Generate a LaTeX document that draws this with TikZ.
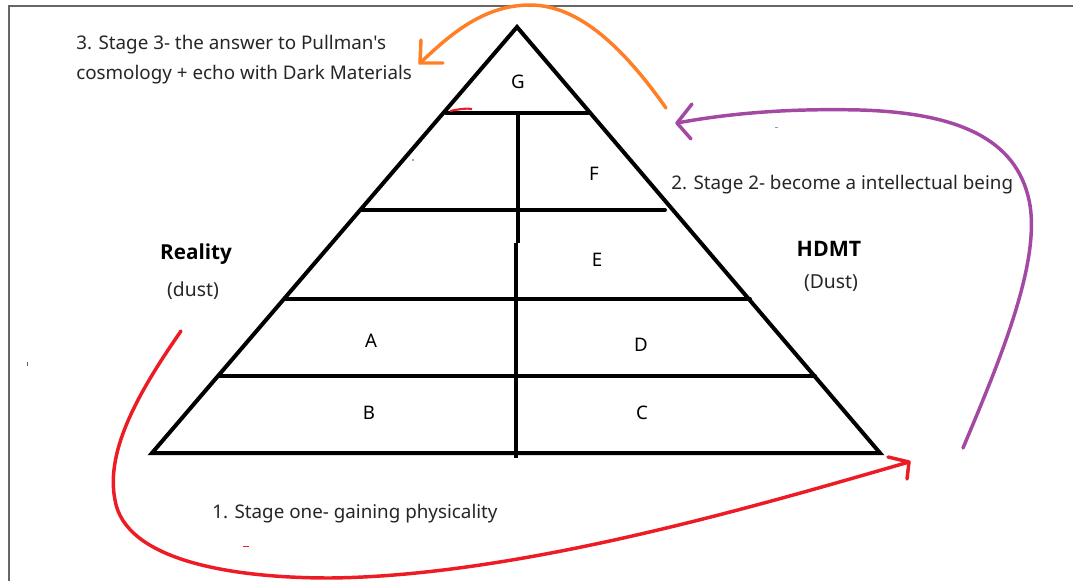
\documentclass[tikz,border=0pt]{standalone}
\usepackage{fontspec}
\setmainfont{Noto Sans}[Ligatures=TeXOff]
\newfontfamily\headfont{Open Sans}[Ligatures=TeXOff]
\begin{document}
\begin{tikzpicture}[x=0.75pt,y=-0.75pt,
  frame/.style={draw=black!60,line width=1.5pt},
  bar/.style={draw=black,line width=3pt,line cap=round},
  stroke/.style={line width=2.6pt,line cap=round,line join=round},
  lbl/.style={font=\fontsize{14.1}{16}\selectfont,inner sep=0pt,text=black!85},
  head/.style={font=\headfont\bfseries\fontsize{15.5}{18}\selectfont,inner sep=0pt},
  sub/.style={font=\fontsize{14.5}{17}\selectfont,inner sep=0pt,text=black!85},
  cell/.style={font=\fontsize{14}{16}\selectfont,inner sep=0pt}]
\definecolor{pred}{HTML}{ED1C24}
\definecolor{porange}{HTML}{FF7F27}
\definecolor{ppurple}{HTML}{A349A4}
\useasboundingbox (0,0) rectangle (1073,581);
\fill[white] (0,0) rectangle (1073,581);
% window frame
\draw[frame] (1073,6.5) -- (8.5,6.5) -- (8.5,581);

% pyramid
\coordinate (apex) at (517,27);
\coordinate (bl) at (152,453);
\coordinate (br) at (880,453);
\draw[bar,line join=miter] (bl) -- (apex) -- (br) -- cycle;
\draw[bar] (446,113) -- (588,113);
\draw[bar] (361,210) -- (665,210);
\draw[bar] (285,299) -- (750,299);
\draw[bar] (220,376) -- (815,376);
\draw[bar,line cap=butt] (518,113) -- (518,243);
\draw[bar,line cap=butt] (516,243) -- (516,458);
\draw[pred,line width=1.6pt] (450,111) .. controls (460,109) and (466,108) .. (472,109);

% cell letters
\node[cell] (g) at (518,82) {G};
\node[cell] (f) at (594,174) {F};
\node[cell] (e) at (597,260) {E};
\node[cell] (a) at (371,341) {A};
\node[cell] (d) at (641,345) {D};
\node[cell] (b) at (369,413) {B};
\node[cell] (c) at (642,413) {C};

% side headings
\node[head] (real) at (196,254) {Reality};
\node[sub] (dust) at (193,291) {(dust)};
\node[head,font=\headfont\bfseries\fontsize{16}{18}\selectfont] (hdmt) at (829,249) {HDMT};
\node[sub] (Dust) at (831,283) {(Dust)};

% stage captions
\node[lbl,anchor=west] (s3a) at (76,45) {3. Stage 3- the answer to Pullman's};
\node[lbl,anchor=west] (s3b) at (76,75) {cosmology + echo with Dark Materials};
\node[lbl,anchor=west] (s2) at (671,185) {2. Stage 2- become a intellectual being};
\node[lbl,anchor=west] (s1) at (212,514) {1. Stage one- gaining physicality};

% stage 1 arrow
\coordinate (r0) at (181,331);
\coordinate (rt) at (909,462);
\draw[stroke,pred] (r0) .. controls (140,390) and (105,450) .. (115,500)
  .. controls (125,560) and (230,578) .. (330,578)
  .. controls (520,576) and (760,505) .. (rt);
\draw[stroke,pred] (888,457) -- (rt) -- (907,479);

% stage 2 arrow
\coordinate (p0) at (963,448);
\coordinate (pt) at (677,123);
\draw[stroke,ppurple] (p0) .. controls (1000,360) and (1042,260) .. (1029,200)
  .. controls (1016,140) and (960,113) .. (860,110)
  .. controls (780,108) and (720,115) .. (pt);
\draw[stroke,ppurple] (692,104) -- (pt) -- (691,139);

% stage 3 arrow
\coordinate (o0) at (666,108);
\coordinate (ot) at (420,63);
\draw[stroke,porange] (o0) .. controls (625,50) and (580,5) .. (530,5)
  .. controls (480,5) and (445,40) .. (ot);
\draw[stroke,porange] (421,40) -- (ot) -- (443,63);

% stray specks
\fill[pred] (243,545.5) rectangle (249,546.5);
\fill[black!60] (26.5,362) rectangle (27.5,366);
\fill[ppurple!60] (412,159) rectangle (414,161);
\fill[black!40] (775,127) rectangle (778,128);
\end{tikzpicture}
\end{document}
